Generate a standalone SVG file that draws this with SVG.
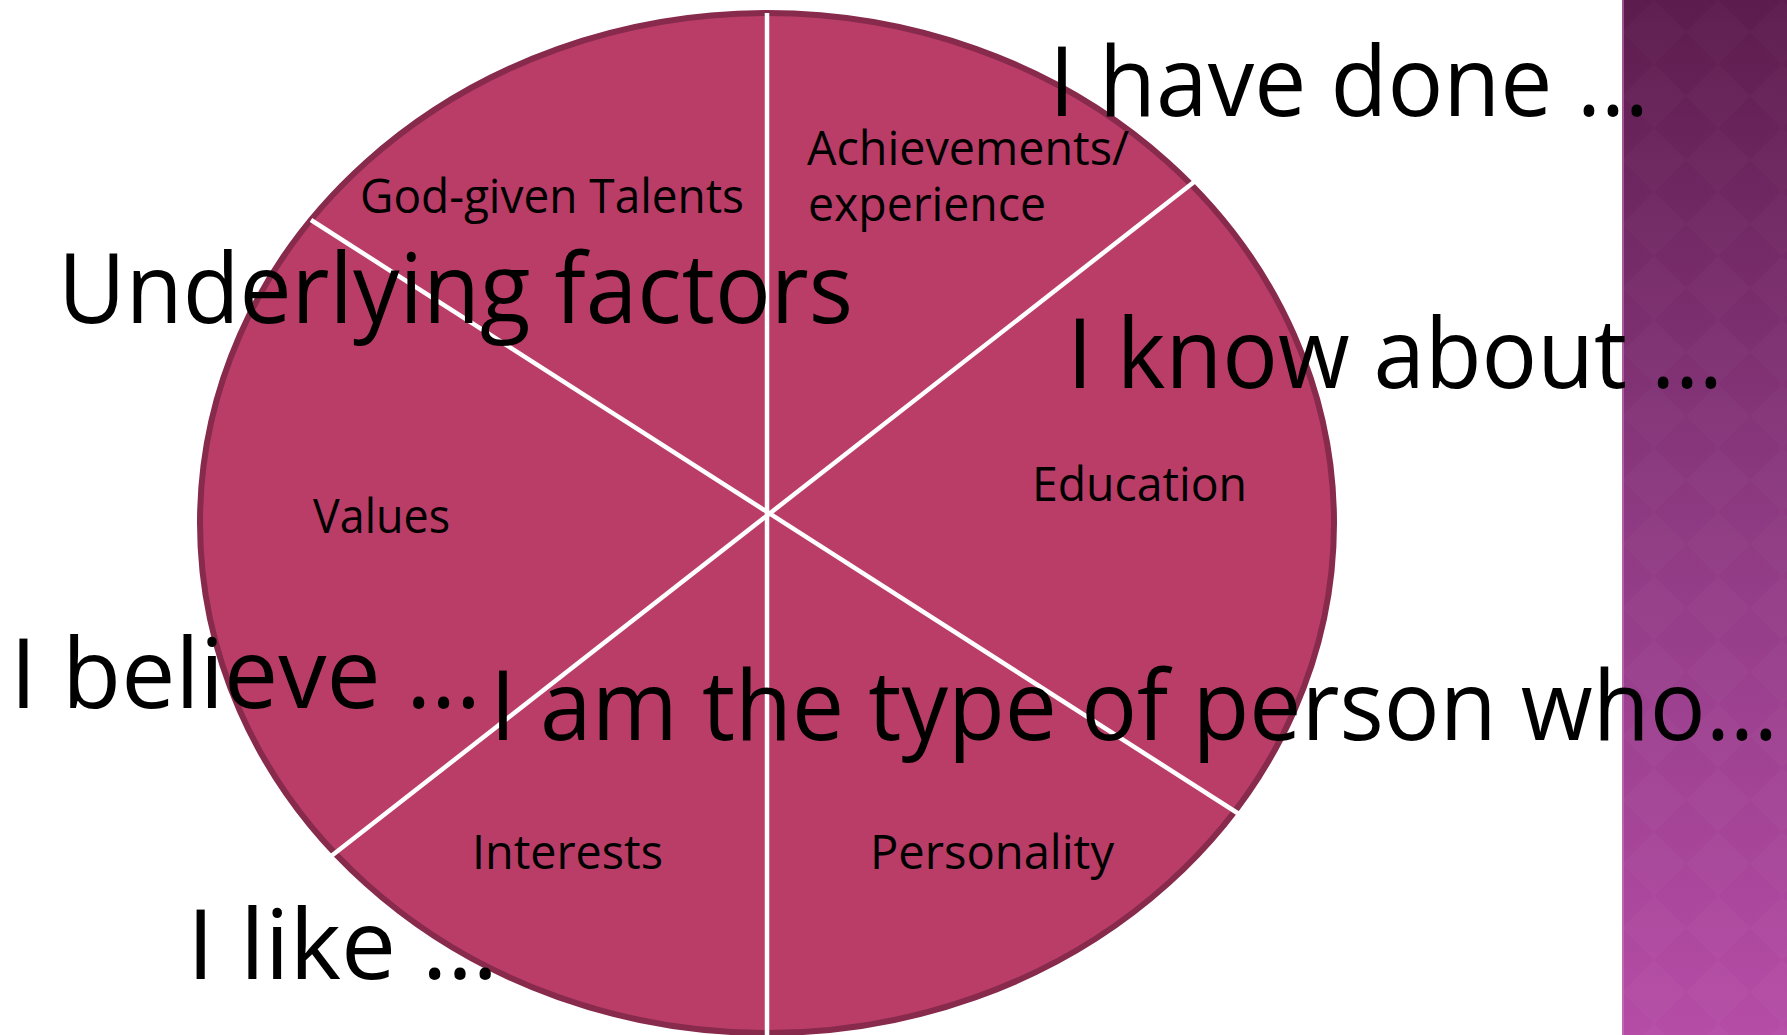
<svg xmlns="http://www.w3.org/2000/svg" width="1787" height="1035" viewBox="0 0 1787 1035">
<style>
.big{font-family:"Open Sans","Noto Sans","DejaVu Sans",sans-serif;font-size:97px;fill:#000}
.lbl{font-family:"Open Sans","Noto Sans","DejaVu Sans",sans-serif;font-size:48px;fill:#000}
.div{stroke:#fff;stroke-width:4.5;fill:none}
</style>
<defs>
<linearGradient id="panel" x1="0" y1="0" x2="0" y2="1">
<stop offset="0" stop-color="#5c1c4d"/>
<stop offset="0.5" stop-color="#8e3a82"/>
<stop offset="1" stop-color="#b54ca6"/>
</linearGradient>
<pattern id="diam" width="64" height="64" patternUnits="userSpaceOnUse" x="1622" y="0">
<path d="M32 0 L64 32 L32 64 L0 32 Z" fill="#fff" fill-opacity="0.02"/>
</pattern>
</defs>
<g id="panel-bg">
<rect x="1622" y="0" width="165" height="1035" fill="url(#panel)"/>
<rect x="1622" y="0" width="165" height="1035" fill="url(#diam)"/>
<rect x="1622" y="0" width="2" height="1035" fill="#c77ab8" opacity="0.6"/>
</g>
<g id="wheel">
<ellipse cx="767" cy="523" rx="567" ry="510" fill="#b93d67" stroke="#872a4b" stroke-width="6"/>
</g>
<g id="connectors">
<line class="div" x1="767" y1="13" x2="767" y2="1035"/>
<line class="div" x1="311" y1="220" x2="1239" y2="814"/>
<line class="div" x1="1194" y1="182" x2="330" y2="857"/>
</g>
<g id="node-talents"><text class="lbl" x="360" y="213" textLength="384" lengthAdjust="spacingAndGlyphs">God-given Talents</text></g>
<g id="node-achievements"><text class="lbl" x="807" y="165" textLength="322" lengthAdjust="spacingAndGlyphs">Achievements/</text><text class="lbl" x="808" y="221" textLength="238" lengthAdjust="spacingAndGlyphs">experience</text></g>
<g id="node-education"><text class="lbl" x="1032" y="501" textLength="215" lengthAdjust="spacingAndGlyphs">Education</text></g>
<g id="node-values"><text class="lbl" x="313" y="533" textLength="137" lengthAdjust="spacingAndGlyphs">Values</text></g>
<g id="node-interests"><text class="lbl" x="472" y="869" textLength="191" lengthAdjust="spacingAndGlyphs">Interests</text></g>
<g id="node-personality"><text class="lbl" x="870" y="869" textLength="244" lengthAdjust="spacingAndGlyphs">Personality</text></g>
<g id="node-underlying"><text class="big" x="58" y="323" textLength="795" lengthAdjust="spacingAndGlyphs">Underlying factors</text></g>
<g id="node-done"><text class="big" x="1049" y="116" textLength="600" lengthAdjust="spacingAndGlyphs">I have done …</text></g>
<g id="node-know"><text class="big" x="1067" y="388" textLength="656" lengthAdjust="spacingAndGlyphs">I know about …</text></g>
<g id="node-believe"><text class="big" x="10" y="708" textLength="471" lengthAdjust="spacingAndGlyphs">I believe …</text></g>
<g id="node-type"><text class="big" x="490" y="740" textLength="1288" lengthAdjust="spacingAndGlyphs">I am the type of person who…</text></g>
<g id="node-like"><text class="big" x="187" y="979" textLength="311" lengthAdjust="spacingAndGlyphs">I like …</text></g>
</svg>
